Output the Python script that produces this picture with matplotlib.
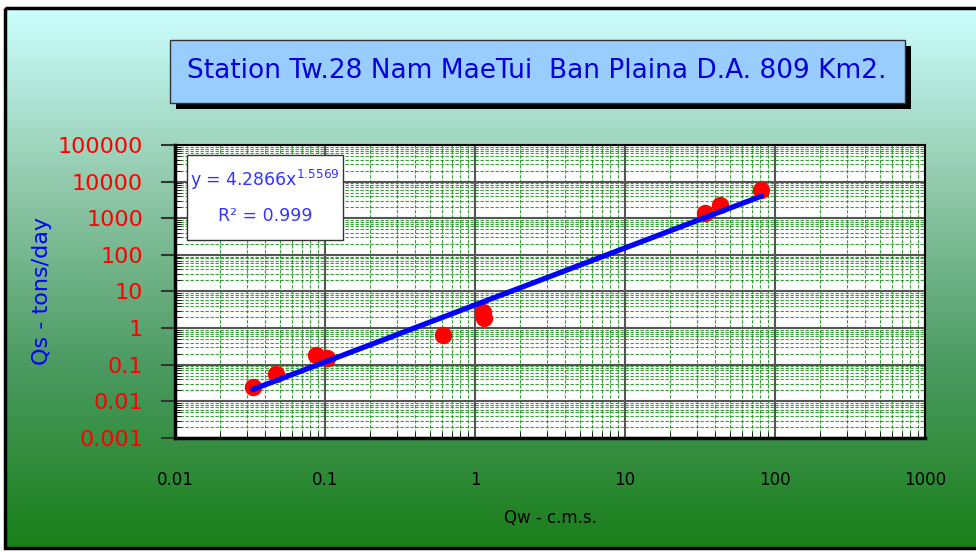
import numpy as np
import matplotlib
matplotlib.use("Agg")
import matplotlib.pyplot as plt
from matplotlib.colors import LinearSegmentedColormap
from matplotlib.patches import Rectangle
from matplotlib.ticker import LogLocator, FixedLocator, NullFormatter

# measured discharge (c.m.s.) and sediment load (tons/day)
qw = [0.033, 0.047, 0.087, 0.103, 0.61, 1.13, 1.15, 34.0, 43.0, 81.0]
qs = [0.0245, 0.055, 0.18, 0.15, 0.65, 2.7, 1.9, 1380.0, 2300.0, 5900.0]

# power trend line y = a * x^b
coef_a = 4.2866
coef_b = 1.5569
r2 = 0.999

xticks = [0.01, 0.1, 1, 10, 100, 1000]
xlabels = ["0.01", "0.1", "1", "10", "100", "1000"]
yticks = [0.001, 0.01, 0.1, 1, 10, 100, 1000, 10000, 100000]
ylabels = ["0.001", "0.01", "0.1", "1", "10", "100", "1000", "10000", "100000"]

title = "Station Tw.28 Nam MaeTui  Ban Plaina D.A. 809 Km2."

plt.rcParams['font.family'] = ['DejaVu Sans']

fig = plt.figure(figsize=(9.76, 5.52), dpi=100)

# background gradient inside a black frame
bg = fig.add_axes([0, 0, 1, 1])
bg.set_xlim(0, 976)
bg.set_ylim(552, 0)
bg.axis("off")
cmap = LinearSegmentedColormap.from_list("bg", ["#ccffff", "#90c8aa", "#4a9a60", "#1a7f1a"])
grad = np.linspace(0, 1, 256).reshape(-1, 1)
bg.imshow(grad, cmap=cmap, aspect="auto", extent=[5, 976, 548, 8], zorder=0)
bg.add_patch(Rectangle((5, 8), 975, 540, fill=False, ec="black", lw=2.5, zorder=2))

# title box with shadow
bg.add_patch(Rectangle((176, 46), 735, 63, fc="black", ec="none", zorder=2))
bg.add_patch(Rectangle((170, 40), 735, 63, fc="#99ccff", ec="#333333", lw=1, zorder=3))
bg.text(537, 71, title, ha="center", va="center", color="#0000dd", fontsize=19, zorder=4)

ax = fig.add_axes([175 / 976, 1 - 438 / 552, 750 / 976, 293 / 552])
ax.set_facecolor("white")
ax.set_xscale("log")
ax.set_yscale("log")
ax.set_xlim(0.01, 1000)
ax.set_ylim(0.001, 100000)

ax.xaxis.set_major_locator(FixedLocator(xticks))
ax.set_xticklabels(xlabels)
ax.yaxis.set_major_locator(FixedLocator(yticks))
ax.set_yticklabels(ylabels)
ax.xaxis.set_minor_locator(LogLocator(base=10, subs=np.arange(2, 10), numticks=20))
ax.yaxis.set_minor_locator(LogLocator(base=10, subs=np.arange(2, 10), numticks=20))
ax.xaxis.set_minor_formatter(NullFormatter())
ax.yaxis.set_minor_formatter(NullFormatter())

ax.grid(which="major", color="#555555", lw=1.5)
ax.grid(which="minor", color="#159015", lw=0.8, ls=(0, (3, 1.5)), alpha=0.85)
ax.set_axisbelow(True)

ax.tick_params(axis="y", which="major", length=10, width=1.5, color="#333333",
               labelcolor="red", labelsize=16, pad=13)
ax.tick_params(axis="y", which="minor", length=4, direction="in", color="black")
ax.tick_params(axis="x", which="major", length=0, labelcolor="black", labelsize=12, pad=24)
ax.tick_params(axis="x", which="minor", length=4, direction="in", color="black")

for side in ["left", "bottom"]:
    ax.spines[side].set_linewidth(2.5)
for side in ["top", "right"]:
    ax.spines[side].set_linewidth(1.5)

ax.plot(qw, qs, "o", color="red", ms=11.5, zorder=3, clip_on=False)
xfit = np.array([min(qw), max(qw)])
ax.plot(xfit, coef_a * xfit ** coef_b, color="#0000ff", lw=3.8, zorder=4,
        solid_capstyle="round")

ax.set_xlabel("Qw - c.m.s.", fontsize=12, color="black", labelpad=14)
ax.set_ylabel("Qs - tons/day", fontsize=16, color="#0000ff", labelpad=4)

# equation box on a transparent overlay so it sits above the grid
over = fig.add_axes([0, 0, 1, 1])
over.set_xlim(0, 976)
over.set_ylim(552, 0)
over.axis("off")
over.patch.set_alpha(0)
over.add_patch(Rectangle((187, 155), 156, 85, fc="white", ec="#333333", lw=1))
over.text(265, 180, r"y = 4.2866x$^{\mathregular{1.5569}}$", ha="center", va="center",
          color="#3333ff", fontsize=12.5)
over.text(265, 216, "R² = %.3f" % r2, ha="center", va="center", color="#3333ff",
          fontsize=12.5)

fig.savefig("out.png", dpi=100)
